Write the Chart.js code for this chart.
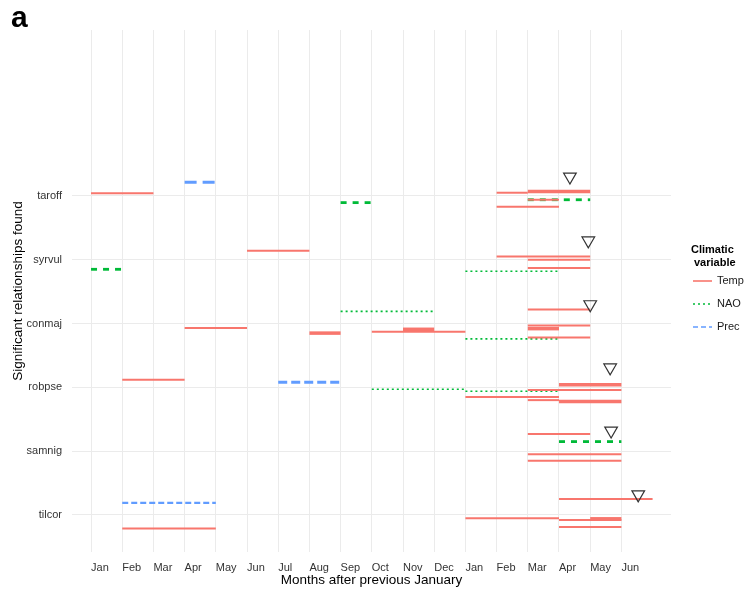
<!DOCTYPE html>
<html>
<head>
<meta charset="utf-8">
<script src="https://cdn.jsdelivr.net/npm/chart.js@4.4.1/dist/chart.umd.min.js"></script>
<style>
    html, body { margin: 0; padding: 0; background: #fff; }
</style>
</head>
<body>
<canvas id="myChart" width="746" height="594"></canvas>
<script>
const months = ['Jan', 'Feb', 'Mar', 'Apr', 'May', 'Jun', 'Jul', 'Aug', 'Sep', 'Oct', 'Nov', 'Dec',
    'Jan', 'Feb', 'Mar', 'Apr', 'May', 'Jun'];
const species = ['tilcor', 'samnig', 'robpse', 'conmaj', 'syrvul', 'taroff'];
const varNames = ['Temp', 'NAO', 'Prec'];

// [start month, end month, y, weight]
const tempSegs = [
    [1, 3, 6.04, 1], [14, 15, 6.05, 1], [15, 17, 6.07, 2], [15, 16, 5.94, 1], [14, 16, 5.83, 1],
    [6, 8, 5.14, 1], [14, 17, 5.05, 1], [15, 17, 5.0, 1], [15, 17, 4.87, 1],
    [4, 6, 3.93, 1], [8, 9, 3.85, 2], [10, 13, 3.87, 1], [11, 12, 3.91, 2],
    [15, 17, 4.22, 1], [15, 17, 3.97, 1], [15, 16, 3.92, 2], [15, 17, 3.78, 1],
    [2, 4, 3.12, 1], [13, 16, 2.85, 1], [16, 18, 3.04, 2], [15, 18, 2.96, 1], [15, 16, 2.8, 1], [16, 18, 2.78, 2],
    [15, 17, 2.27, 1], [15, 18, 1.95, 1], [15, 18, 1.85, 1],
    [2, 5, 0.79, 1], [16, 19, 1.25, 1], [13, 16, 0.95, 1], [16, 18, 0.92, 1], [17, 18, 0.94, 2], [16, 18, 0.81, 1]
];
const naoSegs = [
    [9, 10, 5.895, 2], [15, 17, 5.94, 2],
    [1, 2, 4.85, 2], [13, 16, 4.82, 1],
    [9, 12, 4.19, 1], [13, 16, 3.76, 1],
    [10, 13, 2.97, 1], [13, 16, 2.94, 1],
    [16, 18, 2.15, 2]
];
const precSegs = [
    [4, 5, 6.215, 3],
    [7, 9, 3.08, 2],
    [2, 5, 1.19, 1]
];
const peakX = [16.35, 16.94, 17.0, 17.64, 17.67, 18.54];
const peakY = [6.30, 5.30, 4.30, 3.31, 2.32, 1.32];

const FONT = '"Liberation Sans", Arial, Helvetica, sans-serif';

const styles = {
    Temp: { color: '#F8766D', width: w => (w > 1 ? 3.5 : 2), dash: w => [] },
    NAO: { color: '#00BA38', width: w => (w > 1 ? 2.8 : 1.6), dash: w => (w > 1 ? [6, 6] : [2, 3]) },
    Prec: { color: '#619CFF', width: w => (w > 2 ? 3 : w > 1 ? 3 : 2.4), dash: w => (w > 2 ? [12, 6] : w > 1 ? [9, 4] : [6, 3]) }
};

function segDatasets(segs, name) {
    const st = styles[name];
    return segs.map(s => ({
        type: 'line',
        data: [{ x: s[0], y: s[2] }, { x: s[1], y: s[2] }],
        borderColor: st.color,
        borderWidth: st.width(s[3]),
        borderDash: st.dash(s[3]),
        borderCapStyle: 'butt',
        pointRadius: 0,
        tension: 0,
        fill: false
    }));
}

const extras = {
    id: 'extras',
    afterDraw(chart) {
        const ctx = chart.ctx;
        ctx.save();
        ctx.fillStyle = '#000';
        ctx.textBaseline = 'alphabetic';
        ctx.font = 'bold 30px ' + FONT;
        ctx.fillText('a', 11, 27);

        // legend
        ctx.font = 'bold 11px ' + FONT;
        ctx.fillText('Climatic', 691, 253);
        ctx.fillText('variable', 694, 266);
        ctx.font = '11px ' + FONT;
        const ys = [281, 304, 327];
        varNames.forEach((n, i) => {
            const st = styles[n];
            ctx.strokeStyle = st.color;
            ctx.lineWidth = n === 'Temp' ? 1.6 : 1.4;
            ctx.setLineDash(n === 'Temp' ? [] : n === 'NAO' ? [2, 3] : [5, 3]);
            ctx.beginPath();
            ctx.moveTo(693, ys[i]);
            ctx.lineTo(712, ys[i]);
            ctx.stroke();
            ctx.setLineDash([]);
            ctx.fillStyle = '#1a1a1a';
            ctx.textBaseline = 'middle';
            ctx.fillText(n, 717, ys[i]);
        });
        ctx.restore();
    }
};

const ctx = document.getElementById('myChart').getContext('2d');
const myChart = new Chart(ctx, {
    type: 'scatter',
    data: {
        datasets: [
            {
                data: peakX.map((x, i) => ({ x: x, y: peakY[i] })),
                pointStyle: 'triangle',
                rotation: 180,
                pointRadius: 7.3,
                borderColor: '#333',
                borderWidth: 1.2,
                backgroundColor: 'rgba(0,0,0,0)'
            },
            ...segDatasets(tempSegs, 'Temp'),
            ...segDatasets(naoSegs, 'NAO'),
            ...segDatasets(precSegs, 'Prec')
        ]
    },
    options: {
        responsive: false,
        animation: false,
        devicePixelRatio: 1,
        layout: { padding: { left: 0, right: 75, top: 30, bottom: 0 } },
        plugins: { legend: { display: false }, tooltip: { enabled: false } },
        scales: {
            x: {
                type: 'linear',
                min: 0.39,
                max: 19.59,
                afterBuildTicks: s => { s.ticks = months.map((m, i) => ({ value: i + 1 })); },
                afterFit: s => { s.height = 42; },
                grid: { color: '#EBEBEB', lineWidth: 1, drawTicks: false },
                border: { display: false },
                ticks: {
                    autoSkip: false, maxRotation: 0, align: 'start', padding: 9,
                    color: '#333', font: { family: FONT, size: 11 },
                    callback: v => months[v - 1]
                },
                title: {
                    display: true, text: 'Months after previous January', color: '#000',
                    font: { family: FONT, size: 13.5 }, padding: { top: 0, bottom: 6 }
                }
            },
            y: {
                type: 'linear',
                min: 0.42,
                max: 8.6,
                afterBuildTicks: s => { s.ticks = species.map((n, i) => ({ value: i + 1 })); },
                afterFit: s => { s.width = 72; },
                grid: { color: '#EBEBEB', lineWidth: 1, drawTicks: false },
                border: { display: false },
                ticks: {
                    padding: 10, color: '#333', font: { family: FONT, size: 11 },
                    callback: v => species[v - 1]
                },
                title: {
                    display: true, text: 'Significant relationships found', color: '#000',
                    font: { family: FONT, size: 13.5 }, padding: { top: 10, bottom: 0 }
                }
            }
        }
    },
    plugins: [extras]
});
</script>
</body>
</html>
